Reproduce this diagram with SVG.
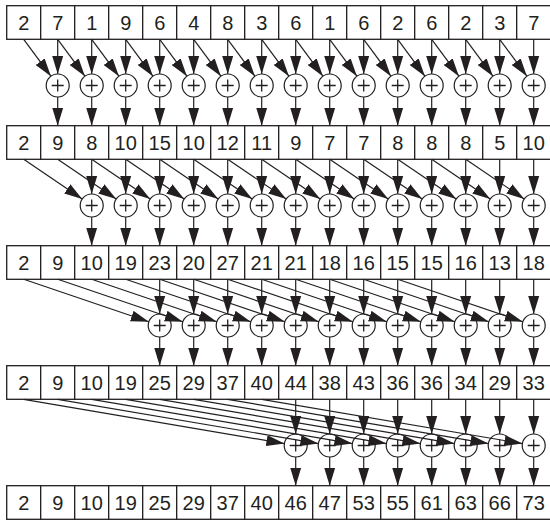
<svg xmlns="http://www.w3.org/2000/svg" xmlns:xlink="http://www.w3.org/1999/xlink" width="550" height="521" viewBox="0 0 550 521">
<style>
.c rect{fill:#fff;stroke:#231f20;stroke-width:1.3}
.c text{font-family:"Liberation Sans",Arial,sans-serif;font-size:20px;fill:#231f20;text-anchor:middle}
.ad circle{fill:#fff;stroke:#231f20;stroke-width:1.2}
.ad path{fill:none;stroke:#231f20;stroke-width:1.3}
#conn line{stroke:#231f20;stroke-width:1.2;marker-end:url(#ah)}
</style>
<defs>
<marker id="ah" markerUnits="userSpaceOnUse" markerWidth="19" markerHeight="12" refX="18" refY="6" orient="auto">
<path d="M0,0.5L18,6L0,11.5z" fill="#231f20"/>
</marker>
<g id="adder" class="ad"><circle cx="0" cy="0" r="11.5"/><path d="M-6,0H6M0,-6V6"/></g>
</defs>

<!-- Row 0 -->
<g class="c" id="r0c0"><rect x="6.7" y="5.7" width="34" height="33.6"/><text x="23.7" y="29.5">2</text></g>
<g class="c" id="r0c1"><rect x="40.7" y="5.7" width="34" height="33.6"/><text x="57.7" y="29.5">7</text></g>
<g class="c" id="r0c2"><rect x="74.7" y="5.7" width="34" height="33.6"/><text x="91.7" y="29.5">1</text></g>
<g class="c" id="r0c3"><rect x="108.7" y="5.7" width="34" height="33.6"/><text x="125.7" y="29.5">9</text></g>
<g class="c" id="r0c4"><rect x="142.7" y="5.7" width="34" height="33.6"/><text x="159.7" y="29.5">6</text></g>
<g class="c" id="r0c5"><rect x="176.7" y="5.7" width="34" height="33.6"/><text x="193.7" y="29.5">4</text></g>
<g class="c" id="r0c6"><rect x="210.7" y="5.7" width="34" height="33.6"/><text x="227.7" y="29.5">8</text></g>
<g class="c" id="r0c7"><rect x="244.7" y="5.7" width="34" height="33.6"/><text x="261.7" y="29.5">3</text></g>
<g class="c" id="r0c8"><rect x="278.7" y="5.7" width="34" height="33.6"/><text x="295.7" y="29.5">6</text></g>
<g class="c" id="r0c9"><rect x="312.7" y="5.7" width="34" height="33.6"/><text x="329.7" y="29.5">1</text></g>
<g class="c" id="r0c10"><rect x="346.7" y="5.7" width="34" height="33.6"/><text x="363.7" y="29.5">6</text></g>
<g class="c" id="r0c11"><rect x="380.7" y="5.7" width="34" height="33.6"/><text x="397.7" y="29.5">2</text></g>
<g class="c" id="r0c12"><rect x="414.7" y="5.7" width="34" height="33.6"/><text x="431.7" y="29.5">6</text></g>
<g class="c" id="r0c13"><rect x="448.7" y="5.7" width="34" height="33.6"/><text x="465.7" y="29.5">2</text></g>
<g class="c" id="r0c14"><rect x="482.7" y="5.7" width="34" height="33.6"/><text x="499.7" y="29.5">3</text></g>
<g class="c" id="r0c15"><rect x="516.7" y="5.7" width="34" height="33.6"/><text x="533.7" y="29.5">7</text></g>

<!-- Row 1 -->
<g class="c" id="r1c0"><rect x="6.7" y="125.7" width="34" height="33.6"/><text x="23.7" y="149.5">2</text></g>
<g class="c" id="r1c1"><rect x="40.7" y="125.7" width="34" height="33.6"/><text x="57.7" y="149.5">9</text></g>
<g class="c" id="r1c2"><rect x="74.7" y="125.7" width="34" height="33.6"/><text x="91.7" y="149.5">8</text></g>
<g class="c" id="r1c3"><rect x="108.7" y="125.7" width="34" height="33.6"/><text x="125.7" y="149.5">10</text></g>
<g class="c" id="r1c4"><rect x="142.7" y="125.7" width="34" height="33.6"/><text x="159.7" y="149.5">15</text></g>
<g class="c" id="r1c5"><rect x="176.7" y="125.7" width="34" height="33.6"/><text x="193.7" y="149.5">10</text></g>
<g class="c" id="r1c6"><rect x="210.7" y="125.7" width="34" height="33.6"/><text x="227.7" y="149.5">12</text></g>
<g class="c" id="r1c7"><rect x="244.7" y="125.7" width="34" height="33.6"/><text x="261.7" y="149.5">11</text></g>
<g class="c" id="r1c8"><rect x="278.7" y="125.7" width="34" height="33.6"/><text x="295.7" y="149.5">9</text></g>
<g class="c" id="r1c9"><rect x="312.7" y="125.7" width="34" height="33.6"/><text x="329.7" y="149.5">7</text></g>
<g class="c" id="r1c10"><rect x="346.7" y="125.7" width="34" height="33.6"/><text x="363.7" y="149.5">7</text></g>
<g class="c" id="r1c11"><rect x="380.7" y="125.7" width="34" height="33.6"/><text x="397.7" y="149.5">8</text></g>
<g class="c" id="r1c12"><rect x="414.7" y="125.7" width="34" height="33.6"/><text x="431.7" y="149.5">8</text></g>
<g class="c" id="r1c13"><rect x="448.7" y="125.7" width="34" height="33.6"/><text x="465.7" y="149.5">8</text></g>
<g class="c" id="r1c14"><rect x="482.7" y="125.7" width="34" height="33.6"/><text x="499.7" y="149.5">5</text></g>
<g class="c" id="r1c15"><rect x="516.7" y="125.7" width="34" height="33.6"/><text x="533.7" y="149.5">10</text></g>

<!-- Row 2 -->
<g class="c" id="r2c0"><rect x="6.7" y="245.7" width="34" height="33.6"/><text x="23.7" y="269.5">2</text></g>
<g class="c" id="r2c1"><rect x="40.7" y="245.7" width="34" height="33.6"/><text x="57.7" y="269.5">9</text></g>
<g class="c" id="r2c2"><rect x="74.7" y="245.7" width="34" height="33.6"/><text x="91.7" y="269.5">10</text></g>
<g class="c" id="r2c3"><rect x="108.7" y="245.7" width="34" height="33.6"/><text x="125.7" y="269.5">19</text></g>
<g class="c" id="r2c4"><rect x="142.7" y="245.7" width="34" height="33.6"/><text x="159.7" y="269.5">23</text></g>
<g class="c" id="r2c5"><rect x="176.7" y="245.7" width="34" height="33.6"/><text x="193.7" y="269.5">20</text></g>
<g class="c" id="r2c6"><rect x="210.7" y="245.7" width="34" height="33.6"/><text x="227.7" y="269.5">27</text></g>
<g class="c" id="r2c7"><rect x="244.7" y="245.7" width="34" height="33.6"/><text x="261.7" y="269.5">21</text></g>
<g class="c" id="r2c8"><rect x="278.7" y="245.7" width="34" height="33.6"/><text x="295.7" y="269.5">21</text></g>
<g class="c" id="r2c9"><rect x="312.7" y="245.7" width="34" height="33.6"/><text x="329.7" y="269.5">18</text></g>
<g class="c" id="r2c10"><rect x="346.7" y="245.7" width="34" height="33.6"/><text x="363.7" y="269.5">16</text></g>
<g class="c" id="r2c11"><rect x="380.7" y="245.7" width="34" height="33.6"/><text x="397.7" y="269.5">15</text></g>
<g class="c" id="r2c12"><rect x="414.7" y="245.7" width="34" height="33.6"/><text x="431.7" y="269.5">15</text></g>
<g class="c" id="r2c13"><rect x="448.7" y="245.7" width="34" height="33.6"/><text x="465.7" y="269.5">16</text></g>
<g class="c" id="r2c14"><rect x="482.7" y="245.7" width="34" height="33.6"/><text x="499.7" y="269.5">13</text></g>
<g class="c" id="r2c15"><rect x="516.7" y="245.7" width="34" height="33.6"/><text x="533.7" y="269.5">18</text></g>

<!-- Row 3 -->
<g class="c" id="r3c0"><rect x="6.7" y="365.7" width="34" height="33.6"/><text x="23.7" y="389.5">2</text></g>
<g class="c" id="r3c1"><rect x="40.7" y="365.7" width="34" height="33.6"/><text x="57.7" y="389.5">9</text></g>
<g class="c" id="r3c2"><rect x="74.7" y="365.7" width="34" height="33.6"/><text x="91.7" y="389.5">10</text></g>
<g class="c" id="r3c3"><rect x="108.7" y="365.7" width="34" height="33.6"/><text x="125.7" y="389.5">19</text></g>
<g class="c" id="r3c4"><rect x="142.7" y="365.7" width="34" height="33.6"/><text x="159.7" y="389.5">25</text></g>
<g class="c" id="r3c5"><rect x="176.7" y="365.7" width="34" height="33.6"/><text x="193.7" y="389.5">29</text></g>
<g class="c" id="r3c6"><rect x="210.7" y="365.7" width="34" height="33.6"/><text x="227.7" y="389.5">37</text></g>
<g class="c" id="r3c7"><rect x="244.7" y="365.7" width="34" height="33.6"/><text x="261.7" y="389.5">40</text></g>
<g class="c" id="r3c8"><rect x="278.7" y="365.7" width="34" height="33.6"/><text x="295.7" y="389.5">44</text></g>
<g class="c" id="r3c9"><rect x="312.7" y="365.7" width="34" height="33.6"/><text x="329.7" y="389.5">38</text></g>
<g class="c" id="r3c10"><rect x="346.7" y="365.7" width="34" height="33.6"/><text x="363.7" y="389.5">43</text></g>
<g class="c" id="r3c11"><rect x="380.7" y="365.7" width="34" height="33.6"/><text x="397.7" y="389.5">36</text></g>
<g class="c" id="r3c12"><rect x="414.7" y="365.7" width="34" height="33.6"/><text x="431.7" y="389.5">36</text></g>
<g class="c" id="r3c13"><rect x="448.7" y="365.7" width="34" height="33.6"/><text x="465.7" y="389.5">34</text></g>
<g class="c" id="r3c14"><rect x="482.7" y="365.7" width="34" height="33.6"/><text x="499.7" y="389.5">29</text></g>
<g class="c" id="r3c15"><rect x="516.7" y="365.7" width="34" height="33.6"/><text x="533.7" y="389.5">33</text></g>

<!-- Row 4 -->
<g class="c" id="r4c0"><rect x="6.7" y="485.7" width="34" height="33.6"/><text x="23.7" y="509.5">2</text></g>
<g class="c" id="r4c1"><rect x="40.7" y="485.7" width="34" height="33.6"/><text x="57.7" y="509.5">9</text></g>
<g class="c" id="r4c2"><rect x="74.7" y="485.7" width="34" height="33.6"/><text x="91.7" y="509.5">10</text></g>
<g class="c" id="r4c3"><rect x="108.7" y="485.7" width="34" height="33.6"/><text x="125.7" y="509.5">19</text></g>
<g class="c" id="r4c4"><rect x="142.7" y="485.7" width="34" height="33.6"/><text x="159.7" y="509.5">25</text></g>
<g class="c" id="r4c5"><rect x="176.7" y="485.7" width="34" height="33.6"/><text x="193.7" y="509.5">29</text></g>
<g class="c" id="r4c6"><rect x="210.7" y="485.7" width="34" height="33.6"/><text x="227.7" y="509.5">37</text></g>
<g class="c" id="r4c7"><rect x="244.7" y="485.7" width="34" height="33.6"/><text x="261.7" y="509.5">40</text></g>
<g class="c" id="r4c8"><rect x="278.7" y="485.7" width="34" height="33.6"/><text x="295.7" y="509.5">46</text></g>
<g class="c" id="r4c9"><rect x="312.7" y="485.7" width="34" height="33.6"/><text x="329.7" y="509.5">47</text></g>
<g class="c" id="r4c10"><rect x="346.7" y="485.7" width="34" height="33.6"/><text x="363.7" y="509.5">53</text></g>
<g class="c" id="r4c11"><rect x="380.7" y="485.7" width="34" height="33.6"/><text x="397.7" y="509.5">55</text></g>
<g class="c" id="r4c12"><rect x="414.7" y="485.7" width="34" height="33.6"/><text x="431.7" y="509.5">61</text></g>
<g class="c" id="r4c13"><rect x="448.7" y="485.7" width="34" height="33.6"/><text x="465.7" y="509.5">63</text></g>
<g class="c" id="r4c14"><rect x="482.7" y="485.7" width="34" height="33.6"/><text x="499.7" y="509.5">66</text></g>
<g class="c" id="r4c15"><rect x="516.7" y="485.7" width="34" height="33.6"/><text x="533.7" y="509.5">73</text></g>

<!-- Adders -->
<g id="add0-1"><use xlink:href="#adder" x="57.7" y="85.5"/></g>
<g id="add0-2"><use xlink:href="#adder" x="91.7" y="85.5"/></g>
<g id="add0-3"><use xlink:href="#adder" x="125.7" y="85.5"/></g>
<g id="add0-4"><use xlink:href="#adder" x="159.7" y="85.5"/></g>
<g id="add0-5"><use xlink:href="#adder" x="193.7" y="85.5"/></g>
<g id="add0-6"><use xlink:href="#adder" x="227.7" y="85.5"/></g>
<g id="add0-7"><use xlink:href="#adder" x="261.7" y="85.5"/></g>
<g id="add0-8"><use xlink:href="#adder" x="295.7" y="85.5"/></g>
<g id="add0-9"><use xlink:href="#adder" x="329.7" y="85.5"/></g>
<g id="add0-10"><use xlink:href="#adder" x="363.7" y="85.5"/></g>
<g id="add0-11"><use xlink:href="#adder" x="397.7" y="85.5"/></g>
<g id="add0-12"><use xlink:href="#adder" x="431.7" y="85.5"/></g>
<g id="add0-13"><use xlink:href="#adder" x="465.7" y="85.5"/></g>
<g id="add0-14"><use xlink:href="#adder" x="499.7" y="85.5"/></g>
<g id="add0-15"><use xlink:href="#adder" x="533.7" y="85.5"/></g>

<g id="add1-2"><use xlink:href="#adder" x="91.7" y="205.5"/></g>
<g id="add1-3"><use xlink:href="#adder" x="125.7" y="205.5"/></g>
<g id="add1-4"><use xlink:href="#adder" x="159.7" y="205.5"/></g>
<g id="add1-5"><use xlink:href="#adder" x="193.7" y="205.5"/></g>
<g id="add1-6"><use xlink:href="#adder" x="227.7" y="205.5"/></g>
<g id="add1-7"><use xlink:href="#adder" x="261.7" y="205.5"/></g>
<g id="add1-8"><use xlink:href="#adder" x="295.7" y="205.5"/></g>
<g id="add1-9"><use xlink:href="#adder" x="329.7" y="205.5"/></g>
<g id="add1-10"><use xlink:href="#adder" x="363.7" y="205.5"/></g>
<g id="add1-11"><use xlink:href="#adder" x="397.7" y="205.5"/></g>
<g id="add1-12"><use xlink:href="#adder" x="431.7" y="205.5"/></g>
<g id="add1-13"><use xlink:href="#adder" x="465.7" y="205.5"/></g>
<g id="add1-14"><use xlink:href="#adder" x="499.7" y="205.5"/></g>
<g id="add1-15"><use xlink:href="#adder" x="533.7" y="205.5"/></g>

<g id="add2-4"><use xlink:href="#adder" x="159.7" y="325.5"/></g>
<g id="add2-5"><use xlink:href="#adder" x="193.7" y="325.5"/></g>
<g id="add2-6"><use xlink:href="#adder" x="227.7" y="325.5"/></g>
<g id="add2-7"><use xlink:href="#adder" x="261.7" y="325.5"/></g>
<g id="add2-8"><use xlink:href="#adder" x="295.7" y="325.5"/></g>
<g id="add2-9"><use xlink:href="#adder" x="329.7" y="325.5"/></g>
<g id="add2-10"><use xlink:href="#adder" x="363.7" y="325.5"/></g>
<g id="add2-11"><use xlink:href="#adder" x="397.7" y="325.5"/></g>
<g id="add2-12"><use xlink:href="#adder" x="431.7" y="325.5"/></g>
<g id="add2-13"><use xlink:href="#adder" x="465.7" y="325.5"/></g>
<g id="add2-14"><use xlink:href="#adder" x="499.7" y="325.5"/></g>
<g id="add2-15"><use xlink:href="#adder" x="533.7" y="325.5"/></g>

<g id="add3-8"><use xlink:href="#adder" x="295.7" y="445.5"/></g>
<g id="add3-9"><use xlink:href="#adder" x="329.7" y="445.5"/></g>
<g id="add3-10"><use xlink:href="#adder" x="363.7" y="445.5"/></g>
<g id="add3-11"><use xlink:href="#adder" x="397.7" y="445.5"/></g>
<g id="add3-12"><use xlink:href="#adder" x="431.7" y="445.5"/></g>
<g id="add3-13"><use xlink:href="#adder" x="465.7" y="445.5"/></g>
<g id="add3-14"><use xlink:href="#adder" x="499.7" y="445.5"/></g>
<g id="add3-15"><use xlink:href="#adder" x="533.7" y="445.5"/></g>

<!-- Connectors -->
<g id="conn">
<!-- stage 0, distance 1: vertical -->
<line x1="57.7" y1="39.3" x2="57.7" y2="74"/>
<line x1="91.7" y1="39.3" x2="91.7" y2="74"/>
<line x1="125.7" y1="39.3" x2="125.7" y2="74"/>
<line x1="159.7" y1="39.3" x2="159.7" y2="74"/>
<line x1="193.7" y1="39.3" x2="193.7" y2="74"/>
<line x1="227.7" y1="39.3" x2="227.7" y2="74"/>
<line x1="261.7" y1="39.3" x2="261.7" y2="74"/>
<line x1="295.7" y1="39.3" x2="295.7" y2="74"/>
<line x1="329.7" y1="39.3" x2="329.7" y2="74"/>
<line x1="363.7" y1="39.3" x2="363.7" y2="74"/>
<line x1="397.7" y1="39.3" x2="397.7" y2="74"/>
<line x1="431.7" y1="39.3" x2="431.7" y2="74"/>
<line x1="465.7" y1="39.3" x2="465.7" y2="74"/>
<line x1="499.7" y1="39.3" x2="499.7" y2="74"/>
<line x1="533.7" y1="39.3" x2="533.7" y2="74"/>
<!-- stage 0 diagonal -->
<line x1="23.7" y1="39.3" x2="50.9" y2="76.2"/>
<line x1="57.7" y1="39.3" x2="84.9" y2="76.2"/>
<line x1="91.7" y1="39.3" x2="118.9" y2="76.2"/>
<line x1="125.7" y1="39.3" x2="152.9" y2="76.2"/>
<line x1="159.7" y1="39.3" x2="186.9" y2="76.2"/>
<line x1="193.7" y1="39.3" x2="220.9" y2="76.2"/>
<line x1="227.7" y1="39.3" x2="254.9" y2="76.2"/>
<line x1="261.7" y1="39.3" x2="288.9" y2="76.2"/>
<line x1="295.7" y1="39.3" x2="322.9" y2="76.2"/>
<line x1="329.7" y1="39.3" x2="356.9" y2="76.2"/>
<line x1="363.7" y1="39.3" x2="390.9" y2="76.2"/>
<line x1="397.7" y1="39.3" x2="424.9" y2="76.2"/>
<line x1="431.7" y1="39.3" x2="458.9" y2="76.2"/>
<line x1="465.7" y1="39.3" x2="492.9" y2="76.2"/>
<line x1="499.7" y1="39.3" x2="526.9" y2="76.2"/>
<!-- stage 0 outputs -->
<line x1="57.7" y1="97" x2="57.7" y2="125.7"/>
<line x1="91.7" y1="97" x2="91.7" y2="125.7"/>
<line x1="125.7" y1="97" x2="125.7" y2="125.7"/>
<line x1="159.7" y1="97" x2="159.7" y2="125.7"/>
<line x1="193.7" y1="97" x2="193.7" y2="125.7"/>
<line x1="227.7" y1="97" x2="227.7" y2="125.7"/>
<line x1="261.7" y1="97" x2="261.7" y2="125.7"/>
<line x1="295.7" y1="97" x2="295.7" y2="125.7"/>
<line x1="329.7" y1="97" x2="329.7" y2="125.7"/>
<line x1="363.7" y1="97" x2="363.7" y2="125.7"/>
<line x1="397.7" y1="97" x2="397.7" y2="125.7"/>
<line x1="431.7" y1="97" x2="431.7" y2="125.7"/>
<line x1="465.7" y1="97" x2="465.7" y2="125.7"/>
<line x1="499.7" y1="97" x2="499.7" y2="125.7"/>
<line x1="533.7" y1="97" x2="533.7" y2="125.7"/>

<!-- stage 1, distance 2: vertical -->
<line x1="91.7" y1="159.3" x2="91.7" y2="194"/>
<line x1="125.7" y1="159.3" x2="125.7" y2="194"/>
<line x1="159.7" y1="159.3" x2="159.7" y2="194"/>
<line x1="193.7" y1="159.3" x2="193.7" y2="194"/>
<line x1="227.7" y1="159.3" x2="227.7" y2="194"/>
<line x1="261.7" y1="159.3" x2="261.7" y2="194"/>
<line x1="295.7" y1="159.3" x2="295.7" y2="194"/>
<line x1="329.7" y1="159.3" x2="329.7" y2="194"/>
<line x1="363.7" y1="159.3" x2="363.7" y2="194"/>
<line x1="397.7" y1="159.3" x2="397.7" y2="194"/>
<line x1="431.7" y1="159.3" x2="431.7" y2="194"/>
<line x1="465.7" y1="159.3" x2="465.7" y2="194"/>
<line x1="499.7" y1="159.3" x2="499.7" y2="194"/>
<line x1="533.7" y1="159.3" x2="533.7" y2="194"/>
<!-- stage 1 diagonal -->
<line x1="23.7" y1="159.3" x2="82.2" y2="199"/>
<line x1="57.7" y1="159.3" x2="116.2" y2="199"/>
<line x1="91.7" y1="159.3" x2="150.2" y2="199"/>
<line x1="125.7" y1="159.3" x2="184.2" y2="199"/>
<line x1="159.7" y1="159.3" x2="218.2" y2="199"/>
<line x1="193.7" y1="159.3" x2="252.2" y2="199"/>
<line x1="227.7" y1="159.3" x2="286.2" y2="199"/>
<line x1="261.7" y1="159.3" x2="320.2" y2="199"/>
<line x1="295.7" y1="159.3" x2="354.2" y2="199"/>
<line x1="329.7" y1="159.3" x2="388.2" y2="199"/>
<line x1="363.7" y1="159.3" x2="422.2" y2="199"/>
<line x1="397.7" y1="159.3" x2="456.2" y2="199"/>
<line x1="431.7" y1="159.3" x2="490.2" y2="199"/>
<line x1="465.7" y1="159.3" x2="524.2" y2="199"/>
<!-- stage 1 outputs -->
<line x1="91.7" y1="217" x2="91.7" y2="245.7"/>
<line x1="125.7" y1="217" x2="125.7" y2="245.7"/>
<line x1="159.7" y1="217" x2="159.7" y2="245.7"/>
<line x1="193.7" y1="217" x2="193.7" y2="245.7"/>
<line x1="227.7" y1="217" x2="227.7" y2="245.7"/>
<line x1="261.7" y1="217" x2="261.7" y2="245.7"/>
<line x1="295.7" y1="217" x2="295.7" y2="245.7"/>
<line x1="329.7" y1="217" x2="329.7" y2="245.7"/>
<line x1="363.7" y1="217" x2="363.7" y2="245.7"/>
<line x1="397.7" y1="217" x2="397.7" y2="245.7"/>
<line x1="431.7" y1="217" x2="431.7" y2="245.7"/>
<line x1="465.7" y1="217" x2="465.7" y2="245.7"/>
<line x1="499.7" y1="217" x2="499.7" y2="245.7"/>
<line x1="533.7" y1="217" x2="533.7" y2="245.7"/>

<!-- stage 2, distance 4: vertical -->
<line x1="159.7" y1="279.3" x2="159.7" y2="314"/>
<line x1="193.7" y1="279.3" x2="193.7" y2="314"/>
<line x1="227.7" y1="279.3" x2="227.7" y2="314"/>
<line x1="261.7" y1="279.3" x2="261.7" y2="314"/>
<line x1="295.7" y1="279.3" x2="295.7" y2="314"/>
<line x1="329.7" y1="279.3" x2="329.7" y2="314"/>
<line x1="363.7" y1="279.3" x2="363.7" y2="314"/>
<line x1="397.7" y1="279.3" x2="397.7" y2="314"/>
<line x1="431.7" y1="279.3" x2="431.7" y2="314"/>
<line x1="465.7" y1="279.3" x2="465.7" y2="314"/>
<line x1="499.7" y1="279.3" x2="499.7" y2="314"/>
<line x1="533.7" y1="279.3" x2="533.7" y2="314"/>
<!-- stage 2 diagonal -->
<line x1="23.7" y1="279.3" x2="148.8" y2="321.8"/>
<line x1="57.7" y1="279.3" x2="182.8" y2="321.8"/>
<line x1="91.7" y1="279.3" x2="216.8" y2="321.8"/>
<line x1="125.7" y1="279.3" x2="250.8" y2="321.8"/>
<line x1="159.7" y1="279.3" x2="284.8" y2="321.8"/>
<line x1="193.7" y1="279.3" x2="318.8" y2="321.8"/>
<line x1="227.7" y1="279.3" x2="352.8" y2="321.8"/>
<line x1="261.7" y1="279.3" x2="386.8" y2="321.8"/>
<line x1="295.7" y1="279.3" x2="420.8" y2="321.8"/>
<line x1="329.7" y1="279.3" x2="454.8" y2="321.8"/>
<line x1="363.7" y1="279.3" x2="488.8" y2="321.8"/>
<line x1="397.7" y1="279.3" x2="522.8" y2="321.8"/>
<!-- stage 2 outputs -->
<line x1="159.7" y1="337" x2="159.7" y2="365.7"/>
<line x1="193.7" y1="337" x2="193.7" y2="365.7"/>
<line x1="227.7" y1="337" x2="227.7" y2="365.7"/>
<line x1="261.7" y1="337" x2="261.7" y2="365.7"/>
<line x1="295.7" y1="337" x2="295.7" y2="365.7"/>
<line x1="329.7" y1="337" x2="329.7" y2="365.7"/>
<line x1="363.7" y1="337" x2="363.7" y2="365.7"/>
<line x1="397.7" y1="337" x2="397.7" y2="365.7"/>
<line x1="431.7" y1="337" x2="431.7" y2="365.7"/>
<line x1="465.7" y1="337" x2="465.7" y2="365.7"/>
<line x1="499.7" y1="337" x2="499.7" y2="365.7"/>
<line x1="533.7" y1="337" x2="533.7" y2="365.7"/>

<!-- stage 3, distance 8: vertical -->
<line x1="295.7" y1="399.3" x2="295.7" y2="434"/>
<line x1="329.7" y1="399.3" x2="329.7" y2="434"/>
<line x1="363.7" y1="399.3" x2="363.7" y2="434"/>
<line x1="397.7" y1="399.3" x2="397.7" y2="434"/>
<line x1="431.7" y1="399.3" x2="431.7" y2="434"/>
<line x1="465.7" y1="399.3" x2="465.7" y2="434"/>
<line x1="499.7" y1="399.3" x2="499.7" y2="434"/>
<line x1="533.7" y1="399.3" x2="533.7" y2="434"/>
<!-- stage 3 diagonal -->
<line x1="23.7" y1="399.3" x2="284.4" y2="443.6"/>
<line x1="57.7" y1="399.3" x2="318.4" y2="443.6"/>
<line x1="91.7" y1="399.3" x2="352.4" y2="443.6"/>
<line x1="125.7" y1="399.3" x2="386.4" y2="443.6"/>
<line x1="159.7" y1="399.3" x2="420.4" y2="443.6"/>
<line x1="193.7" y1="399.3" x2="454.4" y2="443.6"/>
<line x1="227.7" y1="399.3" x2="488.4" y2="443.6"/>
<line x1="261.7" y1="399.3" x2="522.4" y2="443.6"/>
<!-- stage 3 outputs -->
<line x1="295.7" y1="457" x2="295.7" y2="485.7"/>
<line x1="329.7" y1="457" x2="329.7" y2="485.7"/>
<line x1="363.7" y1="457" x2="363.7" y2="485.7"/>
<line x1="397.7" y1="457" x2="397.7" y2="485.7"/>
<line x1="431.7" y1="457" x2="431.7" y2="485.7"/>
<line x1="465.7" y1="457" x2="465.7" y2="485.7"/>
<line x1="499.7" y1="457" x2="499.7" y2="485.7"/>
<line x1="533.7" y1="457" x2="533.7" y2="485.7"/>
</g>
</svg>
